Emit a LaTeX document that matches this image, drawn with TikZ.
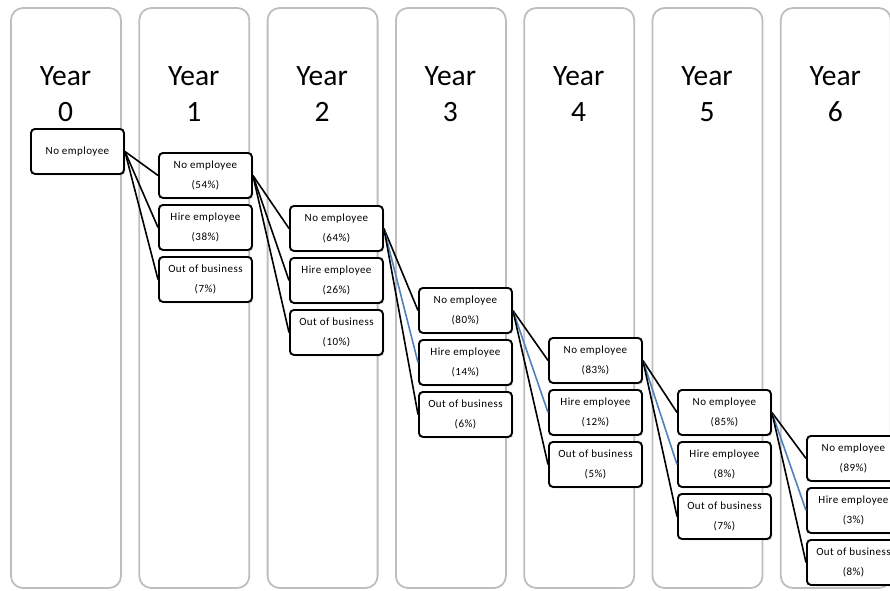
\documentclass[tikz,border=0pt]{standalone}
\usepackage{fontspec}
\setmainfont{Carlito}
\usetikzlibrary{shadows}
\definecolor{colgray}{RGB}{190,190,190}
\definecolor{lineblue}{RGB}{79,129,189}

\begin{document}
\begin{tikzpicture}[x=1pt,y=-1pt,
    col/.style={draw=colgray, line width=1.8pt, rounded corners=12pt},
    box/.style={draw, line width=1.9pt, rounded corners=4pt, fill=white, anchor=north west,
      minimum width=93pt, minimum height=45pt, inner sep=0pt, align=center,
      font=\addfontfeature{LetterSpace=4}\fontsize{11}{20}\selectfont,
      drop shadow={opacity=.25, shadow xshift=1.5pt, shadow yshift=-1.5pt}},
    yr/.style={anchor=base, font=\fontsize{29.5}{36}\selectfont},
    link/.style={line width=1.6pt}]
  \useasboundingbox (0,0) rectangle (890,590);
  \clip (0,0) rectangle (890,590);

  \foreach \i in {0,...,6}{
    \draw[col] (11+128.3*\i,8) rectangle ++(110,580);%列の枠
    \node[yr] (yl\i) at (65.5+128.3*\i,85) {Year};
    \node[yr] (yn\i) at (65.5+128.3*\i,121) {\i};
  }

  \node[box] (n0) at (30,128) {No employee};%最初の状態
  \foreach \i/\x/\y/\a/\b/\c in {1/158/152/54/38/7, 2/289/205/64/26/10, 3/418/287/80/14/6,
      4/548/337/83/12/5, 5/677/389/85/8/7, 6/806/435/89/3/8}{
    \node[box] (n\i) at (\x,\y) {No employee\\(\a\%)};
    \node[box] (h\i) at (\x,\y+52) {Hire employee\\(\b\%)};
    \node[box] (o\i) at (\x,\y+104) {Out of business\\(\c\%)};
  }

  \foreach \p/\i/\hc in {0/1/black, 1/2/black, 2/3/lineblue, 3/4/lineblue, 4/5/lineblue, 5/6/lineblue}{
    \draw[link] (n\p.east) -- (n\i.west);
    \draw[link, draw=\hc] (n\p.east) -- (h\i.west);%雇用
    \draw[link] (n\p.east) -- (o\i.west);
  }
\end{tikzpicture}
\end{document}
